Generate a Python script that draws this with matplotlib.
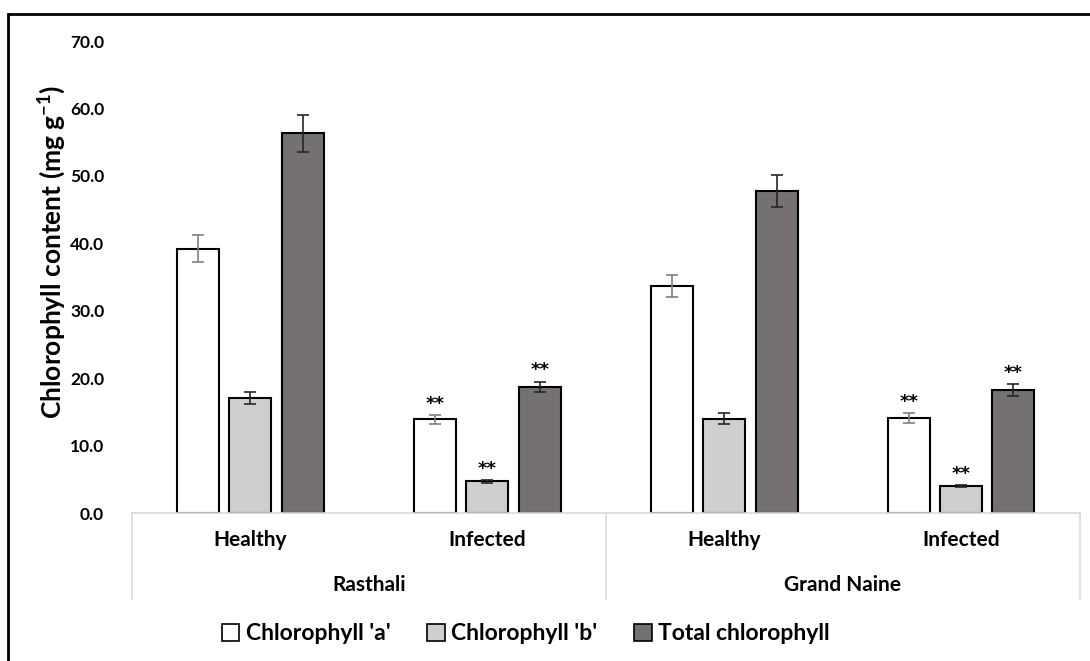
import matplotlib
matplotlib.use("Agg")
import matplotlib.pyplot as plt
from matplotlib.patches import Patch, Rectangle
import numpy as np

plt.rcParams['font.family'] = ['Lato', 'DejaVu Sans']
plt.rcParams['font.weight'] = 'bold'
plt.rcParams['mathtext.fontset'] = 'custom'
plt.rcParams['mathtext.rm'] = 'Lato:bold'
plt.rcParams['mathtext.default'] = 'rm'

# data
conditions = ['Healthy', 'Infected', 'Healthy', 'Infected']
cultivars = ['Rasthali', 'Grand Naine']
series = ["Chlorophyll 'a'", "Chlorophyll 'b'", "Total chlorophyll"]
chl_a = [39.2, 13.9, 33.7, 14.1]
chl_b = [17.1, 4.7, 14.0, 4.0]
chl_total = [56.3, 18.7, 47.8, 18.2]
err_a = [2.0, 0.7, 1.6, 0.8]
err_b = [0.9, 0.2, 0.8, 0.2]
err_total = [2.7, 0.8, 2.4, 0.9]
signif = ['', '**', '', '**']

values = [chl_a, chl_b, chl_total]
errors = [err_a, err_b, err_total]
fills = ['#ffffff', '#d0cece', '#757171']
err_colors = ['#7f7f7f', '#262626', '#262626']

fig = plt.figure(figsize=(10.9, 6.61), dpi=100)
ax = fig.add_axes([132 / 1090, 1 - 513 / 661, (1079.5 - 132) / 1090, (513 - 41) / 661])

x = np.arange(len(conditions))
width = 0.177
step = 0.221
for i in range(3):
    pos = x + (i - 1) * step
    ax.bar(pos, values[i], width, color=fills[i], edgecolor='black', linewidth=1.5, zorder=2)
    ax.errorbar(pos, values[i], yerr=errors[i], fmt='none', ecolor=err_colors[i],
                elinewidth=1.2, capsize=4, capthick=1.2, zorder=3)
    for j in range(len(conditions)):
        if signif[j]:
            ax.text(pos[j], values[i][j] + errors[i][j] + 0.3, signif[j],
                    ha='center', va='bottom', fontsize=13, fontweight='bold',
                    family='DejaVu Sans')

ax.set_xlim(-0.5, 3.5)
ax.set_ylim(0, 70)
ax.set_yticks(np.arange(0, 71, 10))
ax.set_yticklabels([f'{v:.1f}' for v in np.arange(0, 71, 10)], fontsize=12.5, fontweight='bold')
ax.set_xticks(x)
ax.set_xticklabels(conditions, fontsize=15, fontweight='bold')
ax.tick_params(axis='x', length=0, pad=12)
ax.tick_params(axis='y', length=0, pad=20)
for s in ['left', 'right', 'top']:
    ax.spines[s].set_visible(False)
ax.spines['bottom'].set_color('#d9d9d9')
ax.spines['bottom'].set_linewidth(1.2)

# category box lines
tr = ax.get_xaxis_transform()
box_bottom = -(599.3 - 513) / 472
for xv in [-0.5, 1.5, 3.5]:
    ax.plot([xv, xv], [0, box_bottom], transform=tr, color='#d9d9d9', lw=1.2, clip_on=False)
for k, name in enumerate(cultivars):
    ax.text(2 * k + 0.5, -(585 - 513) / 472, name, transform=tr, ha='center', va='center',
            fontsize=15, fontweight='bold')

fig.text(52 / 1090, 1 - 252 / 661, r'Chlorophyll content (mg g$^{-1}$)', rotation=90,
         ha='center', va='center', fontsize=19, fontweight='bold')

handles = [Patch(facecolor=fills[i], edgecolor='black', linewidth=1.2, label=series[i]) for i in range(3)]
fig.legend(handles=handles, loc='center', bbox_to_anchor=(526 / 1090, 1 - 634 / 661), ncol=3,
           frameon=False, handlelength=0.75, handleheight=0.75, handletextpad=0.3,
           columnspacing=1.6, prop={'weight': 'bold', 'size': 16.5})

# outer frame
fig.patches.append(Rectangle((8 / 1090, -0.1), 1.2, 1 - 14 / 661 + 0.1, transform=fig.transFigure,
                             fill=False, edgecolor='black', linewidth=2))

fig.savefig('out.png', dpi=100)
